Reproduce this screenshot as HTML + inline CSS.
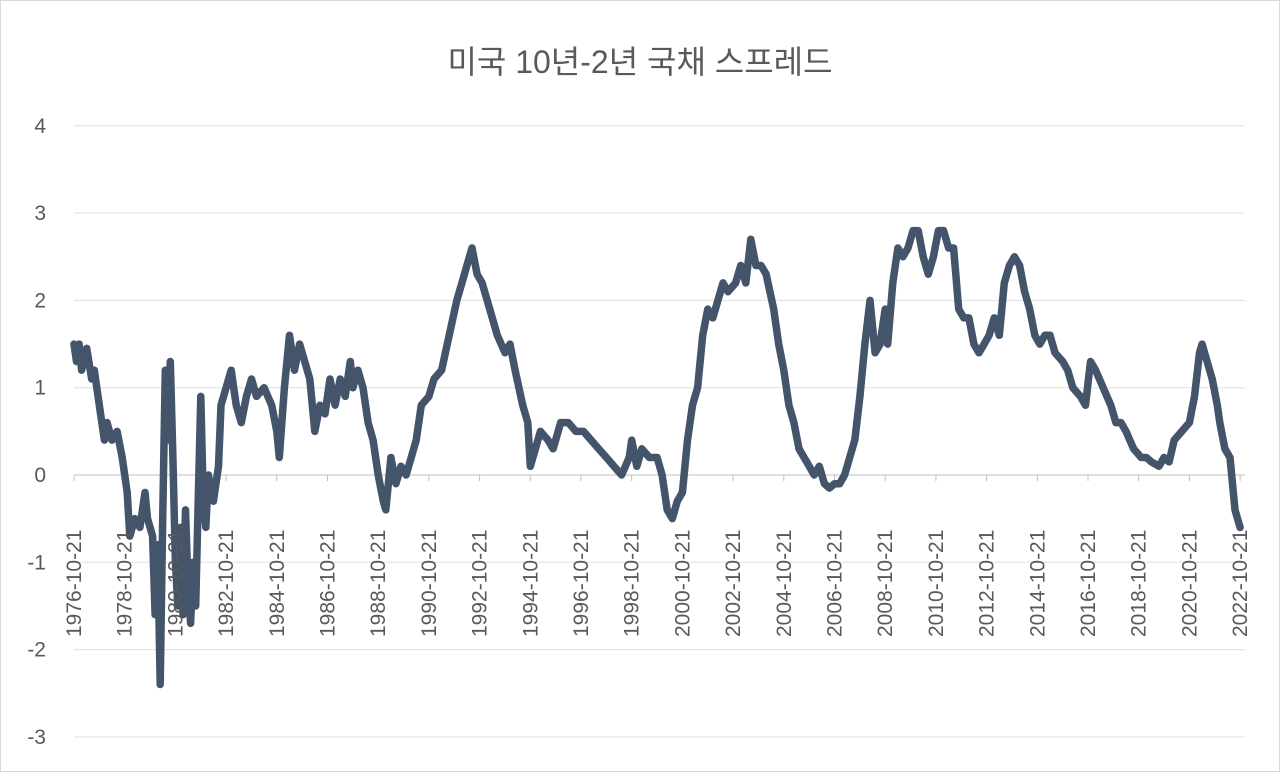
<!DOCTYPE html>
<html><head><meta charset="utf-8"><style>
html,body{margin:0;padding:0;background:#fff;}
svg text{font-family:"Liberation Sans","Noto Sans CJK KR",sans-serif;fill:#595959;}
</style></head><body>
<svg id="chart" width="1280" height="772" xmlns="http://www.w3.org/2000/svg">
<rect x="0.5" y="0.5" width="1279" height="771" fill="#fff" stroke="#d9d9d9"/>
<text x="640" y="73" text-anchor="middle" font-size="32">미국 10년-2년 국채 스프레드</text>
<g id="grid"></g><g id="xaxis"></g><g id="series"></g><g id="labels"></g>
</svg>
<script>
const yTicks=[4,3,2,1,0,-1,-2,-3];
const xTickYears=[1976,1978,1980,1982,1984,1986,1988,1990,1992,1994,1996,1998,2000,2002,2004,2006,2008,2010,2012,2014,2016,2018,2020,2022];
const dates=[1976.8,1976.9,1977.0,1977.1,1977.3,1977.5,1977.6,1977.8,1978.0,1978.1,1978.3,1978.5,1978.7,1978.9,1979.0,1979.2,1979.4,1979.6,1979.7,1979.9,1980.0,1980.1,1980.2,1980.3,1980.4,1980.5,1980.6,1980.7,1980.8,1980.9,1981.0,1981.1,1981.2,1981.3,1981.4,1981.5,1981.6,1981.7,1981.8,1981.9,1982.0,1982.1,1982.3,1982.5,1982.6,1982.8,1983.0,1983.2,1983.4,1983.6,1983.8,1984.0,1984.3,1984.6,1984.8,1984.9,1985.1,1985.3,1985.5,1985.7,1985.9,1986.1,1986.3,1986.5,1986.7,1986.9,1987.1,1987.3,1987.5,1987.7,1987.8,1988.0,1988.2,1988.4,1988.6,1988.8,1989.0,1989.1,1989.3,1989.5,1989.7,1989.9,1990.1,1990.3,1990.5,1990.8,1991.0,1991.3,1991.6,1991.9,1992.1,1992.3,1992.5,1992.7,1992.9,1993.1,1993.3,1993.5,1993.8,1994.0,1994.2,1994.5,1994.7,1994.8,1995.0,1995.2,1995.5,1995.7,1996.0,1996.3,1996.6,1996.9,1997.2,1997.5,1997.8,1998.1,1998.4,1998.7,1998.8,1999.0,1999.2,1999.5,1999.8,2000.0,2000.2,2000.4,2000.6,2000.8,2001.0,2001.2,2001.4,2001.6,2001.8,2002.0,2002.2,2002.4,2002.6,2002.9,2003.1,2003.3,2003.5,2003.7,2003.9,2004.1,2004.4,2004.6,2004.8,2005.0,2005.2,2005.4,2005.6,2005.8,2006.0,2006.2,2006.4,2006.6,2006.8,2007.0,2007.2,2007.4,2007.6,2007.8,2008.0,2008.2,2008.4,2008.6,2008.8,2008.9,2009.1,2009.3,2009.5,2009.7,2009.9,2010.1,2010.3,2010.5,2010.7,2010.9,2011.1,2011.3,2011.5,2011.7,2011.9,2012.1,2012.3,2012.5,2012.7,2012.9,2013.1,2013.3,2013.5,2013.7,2013.9,2014.1,2014.3,2014.5,2014.7,2014.9,2015.1,2015.3,2015.5,2015.8,2016.0,2016.2,2016.5,2016.7,2016.9,2017.1,2017.4,2017.7,2017.9,2018.1,2018.3,2018.6,2018.9,2019.1,2019.3,2019.6,2019.8,2020.0,2020.2,2020.5,2020.8,2021.0,2021.2,2021.3,2021.5,2021.7,2021.9,2022.0,2022.2,2022.4,2022.6,2022.8];
const values=[1.5,1.3,1.5,1.2,1.45,1.1,1.2,0.8,0.4,0.6,0.4,0.5,0.2,-0.2,-0.7,-0.5,-0.6,-0.2,-0.5,-0.7,-1.6,-0.8,-2.4,-0.5,1.2,0.4,1.3,0.2,-1.0,-1.5,-0.6,-1.6,-0.4,-1.3,-1.7,-1.0,-1.5,-0.3,0.9,-0.3,-0.6,0.0,-0.3,0.1,0.8,1.0,1.2,0.8,0.6,0.9,1.1,0.9,1.0,0.8,0.5,0.2,1.0,1.6,1.2,1.5,1.3,1.1,0.5,0.8,0.7,1.1,0.8,1.1,0.9,1.3,1.0,1.2,1.0,0.6,0.4,0.0,-0.3,-0.4,0.2,-0.1,0.1,0.0,0.2,0.4,0.8,0.9,1.1,1.2,1.6,2.0,2.2,2.4,2.6,2.3,2.2,2.0,1.8,1.6,1.4,1.5,1.2,0.8,0.6,0.1,0.3,0.5,0.4,0.3,0.6,0.6,0.5,0.5,0.4,0.3,0.2,0.1,0.0,0.2,0.4,0.1,0.3,0.2,0.2,0.0,-0.4,-0.5,-0.3,-0.2,0.4,0.8,1.0,1.6,1.9,1.8,2.0,2.2,2.1,2.2,2.4,2.2,2.7,2.4,2.4,2.3,1.9,1.5,1.2,0.8,0.6,0.3,0.2,0.1,0.0,0.1,-0.1,-0.15,-0.1,-0.1,0.0,0.2,0.4,0.9,1.5,2.0,1.4,1.5,1.9,1.5,2.2,2.6,2.5,2.6,2.8,2.8,2.5,2.3,2.5,2.8,2.8,2.6,2.6,1.9,1.8,1.8,1.5,1.4,1.5,1.6,1.8,1.6,2.2,2.4,2.5,2.4,2.1,1.9,1.6,1.5,1.6,1.6,1.4,1.3,1.2,1.0,0.9,0.8,1.3,1.2,1.0,0.8,0.6,0.6,0.5,0.3,0.2,0.2,0.15,0.1,0.2,0.15,0.4,0.5,0.6,0.9,1.4,1.5,1.3,1.1,0.8,0.6,0.3,0.2,-0.4,-0.6];
const NS="http://www.w3.org/2000/svg";
const X=t=>74+(t-1976.8)*25.35;
const Y=v=>475-v*87.3;
function mk(tag,attrs,parent,text){const e=document.createElementNS(NS,tag);for(const k in attrs)e.setAttribute(k,attrs[k]);if(text!==undefined)e.textContent=text;document.getElementById(parent).appendChild(e);return e;}
yTicks.forEach(v=>{
  const l=mk('line',{x1:74,x2:1245,y1:Y(v),y2:Y(v),stroke:v===0?'#bfbfbf':'#e0e0e0','stroke-width':1},'grid');
  
  
  const t=mk('text',{x:46,y:Y(v)+7,'text-anchor':'end','font-size':21},'labels',String(v));
  
  
});
xTickYears.forEach(yr=>{
  const x=X(yr+0.8);
  const tk=mk('line',{x1:x,x2:x,y1:475,y2:481,stroke:'#bfbfbf'},'xaxis');
  
  
  const t=mk('text',{x:0,y:0,'font-size':21,transform:`translate(${x+7},637) rotate(-90)`},'labels',yr+'-10-21');
  
  
});
let d='';
dates.forEach((t,i)=>{d+=(i?'L':'M')+X(t).toFixed(1)+','+Y(values[i]).toFixed(1);});
const p=mk('path',{d:d,fill:'none',stroke:'#44546A','stroke-width':7.5,'stroke-linejoin':'round','stroke-linecap':'round'},'series');


</script>
</body></html>
